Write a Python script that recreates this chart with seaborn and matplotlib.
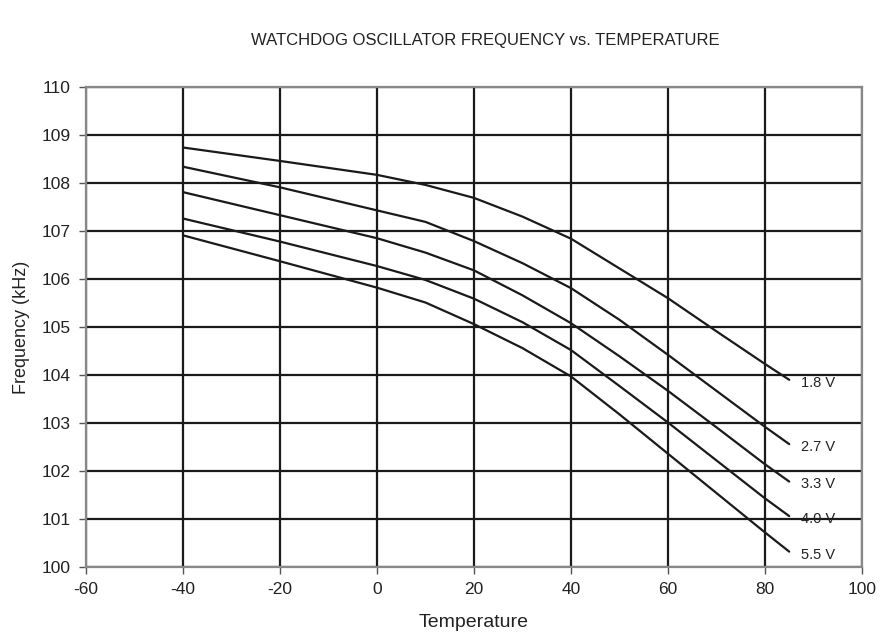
import numpy as np
import pandas as pd
import matplotlib
matplotlib.use("Agg")
import matplotlib.pyplot as plt
import seaborn as sns

# Temperature points (deg C)
temperature = [-40, -20, 0, 10, 20, 30, 40, 50, 60, 70, 80, 85]

# Frequency (kHz) per supply voltage
freq_1v8 = [108.74, 108.46, 108.17, 107.96, 107.69, 107.30, 106.84, 106.22, 105.60, 104.91, 104.23, 103.90]
freq_2v7 = [108.34, 107.91, 107.43, 107.19, 106.79, 106.33, 105.81, 105.15, 104.42, 103.67, 102.92, 102.56]
freq_3v3 = [107.81, 107.33, 106.85, 106.55, 106.18, 105.66, 105.08, 104.39, 103.67, 102.91, 102.14, 101.78]
freq_4v0 = [107.26, 106.78, 106.27, 105.98, 105.59, 105.10, 104.52, 103.77, 103.01, 102.22, 101.43, 101.06]
freq_5v5 = [106.91, 106.37, 105.82, 105.51, 105.06, 104.56, 103.97, 103.18, 102.36, 101.54, 100.72, 100.32]

voltages = ["1.8 V", "2.7 V", "3.3 V", "4.0 V", "5.5 V"]
series = [freq_1v8, freq_2v7, freq_3v3, freq_4v0, freq_5v5]

x_ticks = [-60, -40, -20, 0, 20, 40, 60, 80, 100]
y_ticks = [100, 101, 102, 103, 104, 105, 106, 107, 108, 109, 110]

# long-form table for seaborn
df = pd.concat(
    [pd.DataFrame({"temp": temperature, "freq": f, "voltage": v}) for v, f in zip(voltages, series)],
    ignore_index=True,
)

sns.set_style("white")
plt.rcParams["font.family"] = ["Liberation Sans", "DejaVu Sans"]
plt.rcParams["axes.unicode_minus"] = False

fig = plt.figure(figsize=(8.81, 6.38), dpi=100)
ax = fig.add_axes([0.0976, 0.1113, 0.8808, 0.7523])

sns.lineplot(data=df, x="temp", y="freq", hue="voltage",
             palette=["#1a1a1a"] * len(voltages), linewidth=1.6,
             legend=False, ax=ax)

# labels at the curve ends
for v, f in zip(voltages, series):
    ax.text(temperature[-1] + 2.5, f[-1] - 0.06, v, ha="left", va="center",
            fontsize=10.5, color="#222222")

ax.set_xlim(-60, 100)
ax.set_ylim(100, 110)
ax.set_xticks(x_ticks)
ax.set_yticks(y_ticks)
ax.tick_params(axis="both", labelsize=12.5, length=5, width=1, color="#555555",
               direction="out", pad=6, left=True, bottom=True, labelcolor="#222222")

ax.grid(True, color="#1a1a1a", linewidth=1.6)
ax.set_axisbelow(True)
for side, sp in ax.spines.items():
    sp.set_visible(True)
    sp.set_color("#888888")
    sp.set_linewidth(1.6)

ax.set_xlabel("Temperature", fontsize=14, color="#222222", labelpad=12)
ax.set_ylabel("Frequency (kHz)", fontsize=13, color="#222222", labelpad=8)

fig.text(0.551, 0.936, "WATCHDOG OSCILLATOR FREQUENCY vs. TEMPERATURE",
         ha="center", va="center", fontsize=12, color="#222222")

fig.savefig("out.png", dpi=100)
